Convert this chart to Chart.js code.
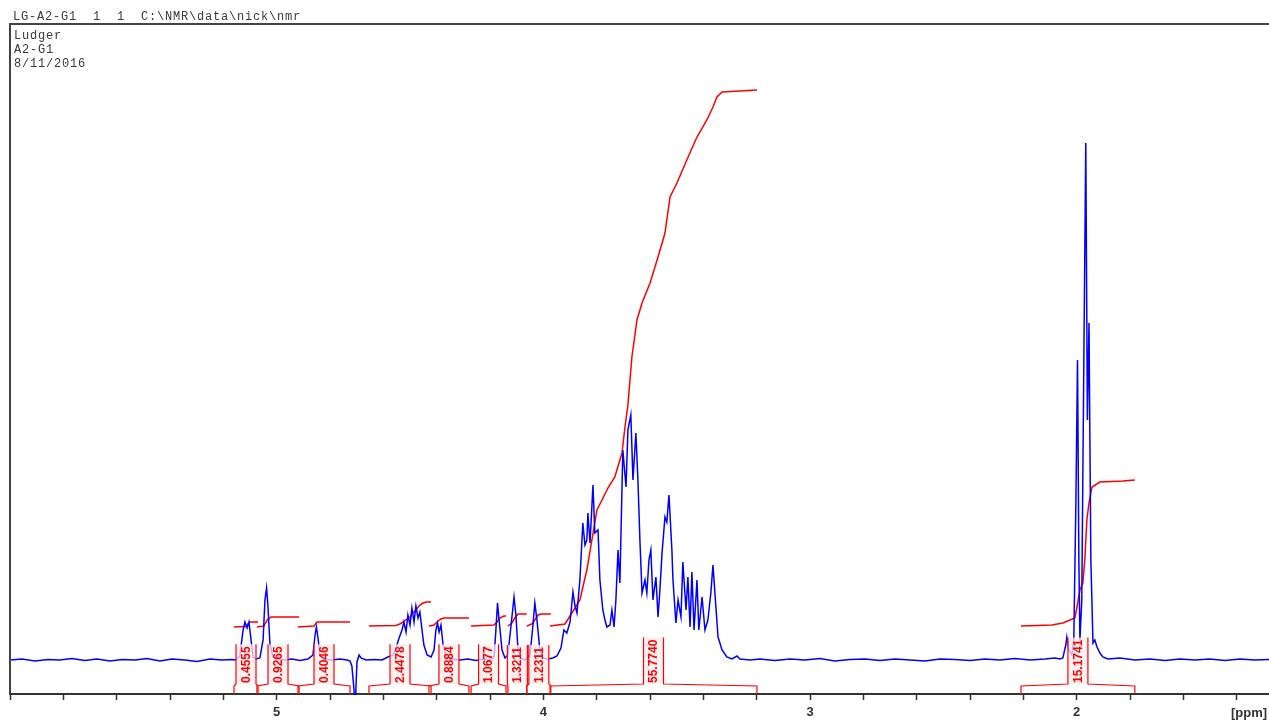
<!DOCTYPE html>
<html>
<head>
<meta charset="utf-8">
<script src="https://cdn.jsdelivr.net/npm/chart.js@4.4.1/dist/chart.umd.min.js"></script>
<style>
html,body{margin:0;padding:0;background:#fff;overflow:hidden;}
#c{display:block;}
</style>
</head>
<body>
<canvas id="c" width="1269" height="721"></canvas>
<script>
// ---- data ----
const headerLine = "LG-A2-G1  1  1  C:\\NMR\\data\\nick\\nmr";
const infoLines = ["Ludger", "A2-G1", "8/11/2016"];

const ppmTicks = [1.4,1.6,1.8,2.0,2.2,2.4,2.6,2.8,3.0,3.2,3.4,3.6,3.8,4.0,4.2,4.4,4.6,4.8,5.0,5.2,5.4,5.6,5.8,6.0];
const majorTicks = [2,3,4,5];

const specPpm = [6.000,5.955,5.906,5.858,5.813,5.768,5.719,5.674,5.625,5.580,5.531,5.486,5.438,5.393,5.344,5.299,5.250,5.205,5.168,5.153,
5.138,5.126,5.119,5.111,5.104,5.096,5.089,5.078,5.063,5.051,5.044,5.038,5.033,5.025,5.014,4.995,4.969,4.943,4.913,4.883,
4.864,4.856,4.851,4.845,4.838,4.823,4.793,4.763,4.736,4.725,4.718,4.710,4.706,4.703,4.699,4.691,4.684,4.665,4.635,4.605,
4.583,4.564,4.553,4.541,4.530,4.523,4.515,4.508,4.500,4.493,4.485,4.478,4.470,4.463,4.455,4.448,4.436,4.421,4.410,4.403,
4.397,4.391,4.384,4.376,4.365,4.343,4.313,4.283,4.253,4.223,4.200,4.185,4.178,4.172,4.166,4.155,4.144,4.133,4.121,4.110,
4.103,4.095,4.084,4.069,4.050,4.039,4.032,4.024,4.013,4.002,3.983,3.964,3.949,3.934,3.923,3.912,3.900,3.889,3.882,3.874,
3.863,3.852,3.844,3.837,3.833,3.825,3.814,3.807,3.795,3.788,3.777,3.769,3.762,3.750,3.743,3.735,3.728,3.720,3.713,3.702,
3.690,3.683,3.672,3.664,3.653,3.645,3.638,3.630,3.619,3.612,3.604,3.597,3.589,3.578,3.570,3.563,3.555,3.544,3.537,3.529,
3.518,3.514,3.503,3.495,3.484,3.477,3.465,3.458,3.450,3.443,3.435,3.424,3.417,3.405,3.394,3.383,3.372,3.364,3.353,3.345,
3.330,3.312,3.293,3.274,3.263,3.225,3.188,3.132,3.075,3.019,2.963,2.907,2.850,2.794,2.738,2.682,2.625,2.569,2.513,2.457,
2.400,2.344,2.288,2.232,2.175,2.119,2.082,2.063,2.052,2.041,2.037,2.029,2.018,2.011,2.003,1.997,1.992,1.988,1.981,1.973,
1.966,1.960,1.954,1.947,1.939,1.932,1.924,1.913,1.902,1.883,1.838,1.782,1.726,1.669,1.613,1.557,1.501,1.444,1.388,1.332,1.279];

const specInt = [0,1,-1,0.5,0,1.5,-0.5,1,-1,0.5,0,1.5,-1,1,0,-1.5,1,0,0.5,0,
4,30,38,32,38,20,3,1,2,20,60,72,55,15,3,1,0,1,-0.5,1,
5,25,33,22,5,1,0,1,0,-1,-6,-30,-50,-30,-2,5,2,0,0.5,0,
3,5,12,22,30,38,28,45,35,52,38,54,42,48,30,15,5,3,10,30,
37,28,35,15,4,1,0,1,-0.5,1,0,3,30,57,40,10,2,5,35,63,
45,10,2,0,5,35,57,40,10,2,1,2,4,12,30,27,38,68,55,47,
80,137,115,120,147,117,175,127,130,80,50,40,33,35,50,33,60,110,77,210,
173,230,245,180,227,177,120,67,80,67,100,110,60,83,43,70,107,143,138,165,
110,80,37,60,43,98,50,83,33,88,30,80,30,63,30,40,67,95,53,23,
10,3,1,4,1,0,1,-0.5,1,0,1.5,-1,0.5,1,-0.5,1,0,-1,1,0.5,
-0.5,1,0,1.5,0,1,2,1,2,15,23,10,5,20,160,300,100,20,60,310,
517,240,337,100,17,20,13,7,3,1,2,0,1,-0.5,1,0,1,-0.5,1,0,0.5];

// integral curves (ppm, level) and their labels
const integralPpm = [
  [5.160,5.115,5.108,5.100,5.070],
  [5.074,5.048,5.040,5.033,5.021,4.916],
  [4.920,4.860,4.849,4.725],
  [4.654,4.553,4.538,4.526,4.511,4.500,4.489,4.478,4.463,4.451,4.440,4.421],
  [4.429,4.410,4.399,4.384,4.373,4.279],
  [4.271,4.185,4.174,4.163,4.148,4.140],
  [4.133,4.118,4.107,4.095,4.062],
  [4.062,4.043,4.032,4.020,4.009,3.972],
  [3.975,3.919,3.893,3.863,3.837,3.818,3.799,3.780,3.758,3.732,3.705,3.694,3.683,3.668,3.649,3.630,3.600,3.570,3.544,3.525,3.499,3.462,3.424,3.387,3.364,3.349,3.330,3.263,3.199],
  [2.209,2.093,2.052,2.007,1.999,1.988,1.977,1.969,1.962,1.954,1.943,1.913,1.827,1.782]
];
const integralLevel = [
  [33,33.5,36,38,38],
  [33,34,38,41,43,43],
  [33,34,38,38],
  [34,34.5,36,38,41,43,47,50,55,57,58,58],
  [34,35,38,41,42,42],
  [34,35,38,42,44,44],
  [34,37,42,46,46],
  [34,36,40,45,46,46],
  [34,36,47,60,90,120,150,160,172,183,207,233,255,303,340,357,377,403,427,463,477,500,523,540,553,563,568,569,570],
  [34,35,37,42,53,70,77,103,140,157,173,178,179,180]
];
const integralLabels = ["0.4555","0.9265","0.4046","2.4478","0.8884","1.0677","1.3211","1.2311","55.7740","15.1741"];

// ---- chart ----
const spectrum = specPpm.map((p,i)=>({x:p,y:specInt[i]}));
const datasets = [{
  data: spectrum, borderColor:'#0000ff', borderWidth:1.5, pointRadius:0, showLine:true, tension:0, clip:1
}];
integralPpm.forEach((arr,k)=>{
  datasets.push({
    data: arr.map((p,i)=>({x:p,y:integralLevel[k][i]})),
    borderColor:'#ff0000', borderWidth:1.5, pointRadius:0, showLine:true, tension:0
  });
});

const decor = {
  id:'decor',
  afterDatasetsDraw(chart){
    const ctx = chart.ctx, xs = chart.scales.x, ca = chart.chartArea;
    ctx.save();
    // integral brackets and labels
    integralPpm.forEach((arr,k)=>{
      const x1 = xs.getPixelForValue(arr[0]);
      const x2 = xs.getPixelForValue(arr[arr.length-1]);
      const xm = (x1+x2)/2;
      ctx.font = 'bold 12px "Liberation Sans", Arial, sans-serif';
      const tw = ctx.measureText(integralLabels[k]).width;
      const bw = 20, bBot = 684, bTop = bBot - tw - 3;
      const bL = xm - bw/2, bR = xm + bw/2;
      ctx.fillStyle = 'rgba(255,236,236,0.75)';
      ctx.fillRect(bL, bTop, bw, bBot-bTop);
      ctx.strokeStyle = '#ff0000';
      ctx.lineWidth = 1.2;
      ctx.beginPath();
      ctx.moveTo(x1, ca.bottom); ctx.lineTo(x1, 686); ctx.lineTo(bL, bBot); ctx.lineTo(bL, bTop);
      ctx.moveTo(bR, bTop); ctx.lineTo(bR, bBot); ctx.lineTo(x2, 686); ctx.lineTo(x2, ca.bottom);
      ctx.stroke();
      ctx.save();
      ctx.translate(xm, bBot-1);
      ctx.rotate(-Math.PI/2);
      ctx.fillStyle = '#ff0000';
      ctx.textAlign = 'left';
      ctx.textBaseline = 'middle';
      ctx.fillText(integralLabels[k], 0, 0.5);
      ctx.restore();
    });
    // frame
    ctx.strokeStyle = '#444';
    ctx.lineWidth = 2;
    ctx.beginPath();
    ctx.moveTo(ca.left, ca.bottom); ctx.lineTo(ca.left, ca.top); ctx.lineTo(ca.right+2, ca.top);
    ctx.stroke();
    // texts
    ctx.fillStyle = '#3a3a3a';
    ctx.font = '12px "Liberation Mono", "Courier New", monospace';
    ctx.textAlign = 'left';
    ctx.textBaseline = 'alphabetic';
    for (let i=0;i<headerLine.length;i++) ctx.fillText(headerLine[i], 13 + i*8, 19.5);
    infoLines.forEach((s,j)=>{
      for (let i=0;i<s.length;i++) ctx.fillText(s[i], 14 + i*8, 38.5 + j*14.3);
    });
    ctx.font = 'bold 13px "Liberation Sans", Arial, sans-serif';
    ctx.fillStyle = '#333';
    ctx.textBaseline = 'middle';
    ctx.fillText('[ppm]', 1231, 713);
    ctx.restore();
  }
};

new Chart(document.getElementById('c'), {
  type:'scatter',
  data:{datasets},
  options:{
    responsive:false, animation:false, events:[],
    layout:{padding:{left:10, top:24, right:0, bottom:0}},
    plugins:{legend:{display:false}, tooltip:{enabled:false}},
    scales:{
      x:{
        type:'linear', reverse:true, min:1.279, max:6.0, position:'bottom',
        afterBuildTicks:(s)=>{ s.ticks = ppmTicks.map(v=>({value:v})); },
        afterFit:(s)=>{ s.height = 27; },
        border:{display:true, color:'#333', width:2},
        grid:{display:true, drawOnChartArea:false, drawTicks:true, tickLength:6, color:'#333', tickWidth:1.5},
        ticks:{
          autoSkip:false, maxRotation:0, padding:5, color:'#333',
          font:{family:'"Liberation Sans", Arial, sans-serif', size:13, weight:'bold'},
          callback:(v)=> majorTicks.includes(Math.round(v*10)/10) ? String(Math.round(v)) : ''
        }
      },
      y:{display:false, min:-34, max:636}
    }
  },
  plugins:[decor]
});
</script>
</body>
</html>
